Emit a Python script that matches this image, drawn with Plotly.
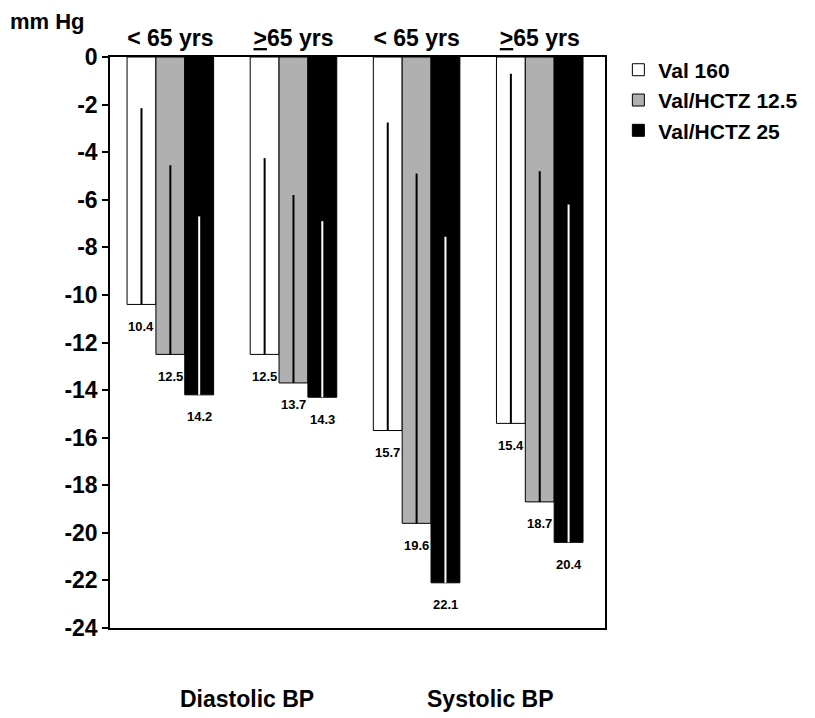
import plotly.graph_objects as go

# ---- data ----
groups = ["Diastolic <65", "Diastolic >=65", "Systolic <65", "Systolic >=65"]
group_labels = ["&lt; 65 yrs", "<u>&gt;</u>65 yrs", "&lt; 65 yrs", "<u>&gt;</u>65 yrs"]
series_names = ["Val 160", "Val/HCTZ 12.5", "Val/HCTZ 25"]

val160 = [-10.4, -12.5, -15.7, -15.4]
hctz125 = [-12.5, -13.7, -19.6, -18.7]
hctz25 = [-14.2, -14.3, -22.1, -20.4]

# upper end of the vertical line drawn inside each bar
val160_top = [-2.15, -4.25, -2.75, -0.7]
hctz125_top = [-4.55, -5.8, -4.9, -4.8]
hctz25_top = [-6.7, -6.9, -7.55, -6.2]

y_ticks = [0, -2, -4, -6, -8, -10, -12, -14, -16, -18, -20, -22, -24]
section_labels = ["Diastolic BP", "Systolic BP"]
unit_label = "mm Hg"

# ---- styling ----
FONT = "Liberation Sans, Arial, sans-serif"
fills = ["#ffffff", "#b0b0b0", "#000000"]
line_cols = ["#000000", "#000000", "#ffffff"]
bargap = 0.297
bar_w = (1 - bargap) / 3

values = [val160, hctz125, hctz25]
tops = [val160_top, hctz125_top, hctz25_top]

fig = go.Figure()
for k in range(3):
    plus = [t - v for t, v in zip(tops[k], values[k])]
    fig.add_trace(go.Bar(
        name=series_names[k],
        x=groups,
        y=values[k],
        marker=dict(color=fills[k], line=dict(color="#000000", width=1)),
        error_y=dict(type="data", symmetric=False, array=plus,
                     arrayminus=[0] * len(plus), width=0, thickness=2,
                     color=line_cols[k]),
    ))

annotations = []
for k in range(3):
    for i, v in enumerate(values[k]):
        annotations.append(dict(
            x=i + (k - 1) * bar_w, y=v, xref="x", yref="y",
            text=f"{abs(v):.1f}", showarrow=False, yshift=-22,
            yanchor="middle", xanchor="center",
            font=dict(family=FONT, size=13, color="#000000", weight="bold"),
        ))

for j, lab in enumerate(section_labels):
    annotations.append(dict(
        x=0.62 + 1.98 * j, y=-0.124, xref="x", yref="paper",
        text=lab, showarrow=False, xanchor="center", yanchor="middle",
        font=dict(family=FONT, size=23, color="#000000", weight="bold"),
    ))

annotations.append(dict(
    x=-0.207, y=1.062, xref="paper", yref="paper", text=unit_label,
    showarrow=False, xanchor="left", yanchor="middle",
    font=dict(family=FONT, size=22, color="#000000", weight="bold"),
))

fig.update_layout(
    width=815, height=718,
    margin=dict(l=110, r=198, t=57, b=90),
    paper_bgcolor="#ffffff", plot_bgcolor="#ffffff",
    barmode="group", bargap=bargap, bargroupgap=0,
    font=dict(family=FONT, color="#000000"),
    showlegend=True,
    legend=dict(x=1.027, y=1.013, xanchor="left", yanchor="top",
                font=dict(family=FONT, size=21, color="#000000", weight="bold"),
                itemwidth=30, tracegroupgap=0, bgcolor="rgba(0,0,0,0)"),
    annotations=annotations,
    xaxis=dict(
        side="top", range=[-0.49, 3.53],
        tickmode="array", tickvals=groups, ticktext=group_labels,
        tickfont=dict(family=FONT, size=23, color="#000000", weight="bold"),
        showline=True, linecolor="#000000", linewidth=1.5, mirror=True,
        ticks="", showgrid=False, zeroline=False,
    ),
    yaxis=dict(
        range=[-24, 0], tickmode="array", tickvals=y_ticks,
        ticktext=[str(t) for t in y_ticks],
        tickfont=dict(family=FONT, size=23, color="#000000", weight="bold"),
        ticks="outside", ticklen=6, tickwidth=1.5, tickcolor="#000000",
        showline=True, linecolor="#000000", linewidth=1.5, mirror=True,
        showgrid=False, zeroline=False,
    ),
)

fig.write_html("out.html")
